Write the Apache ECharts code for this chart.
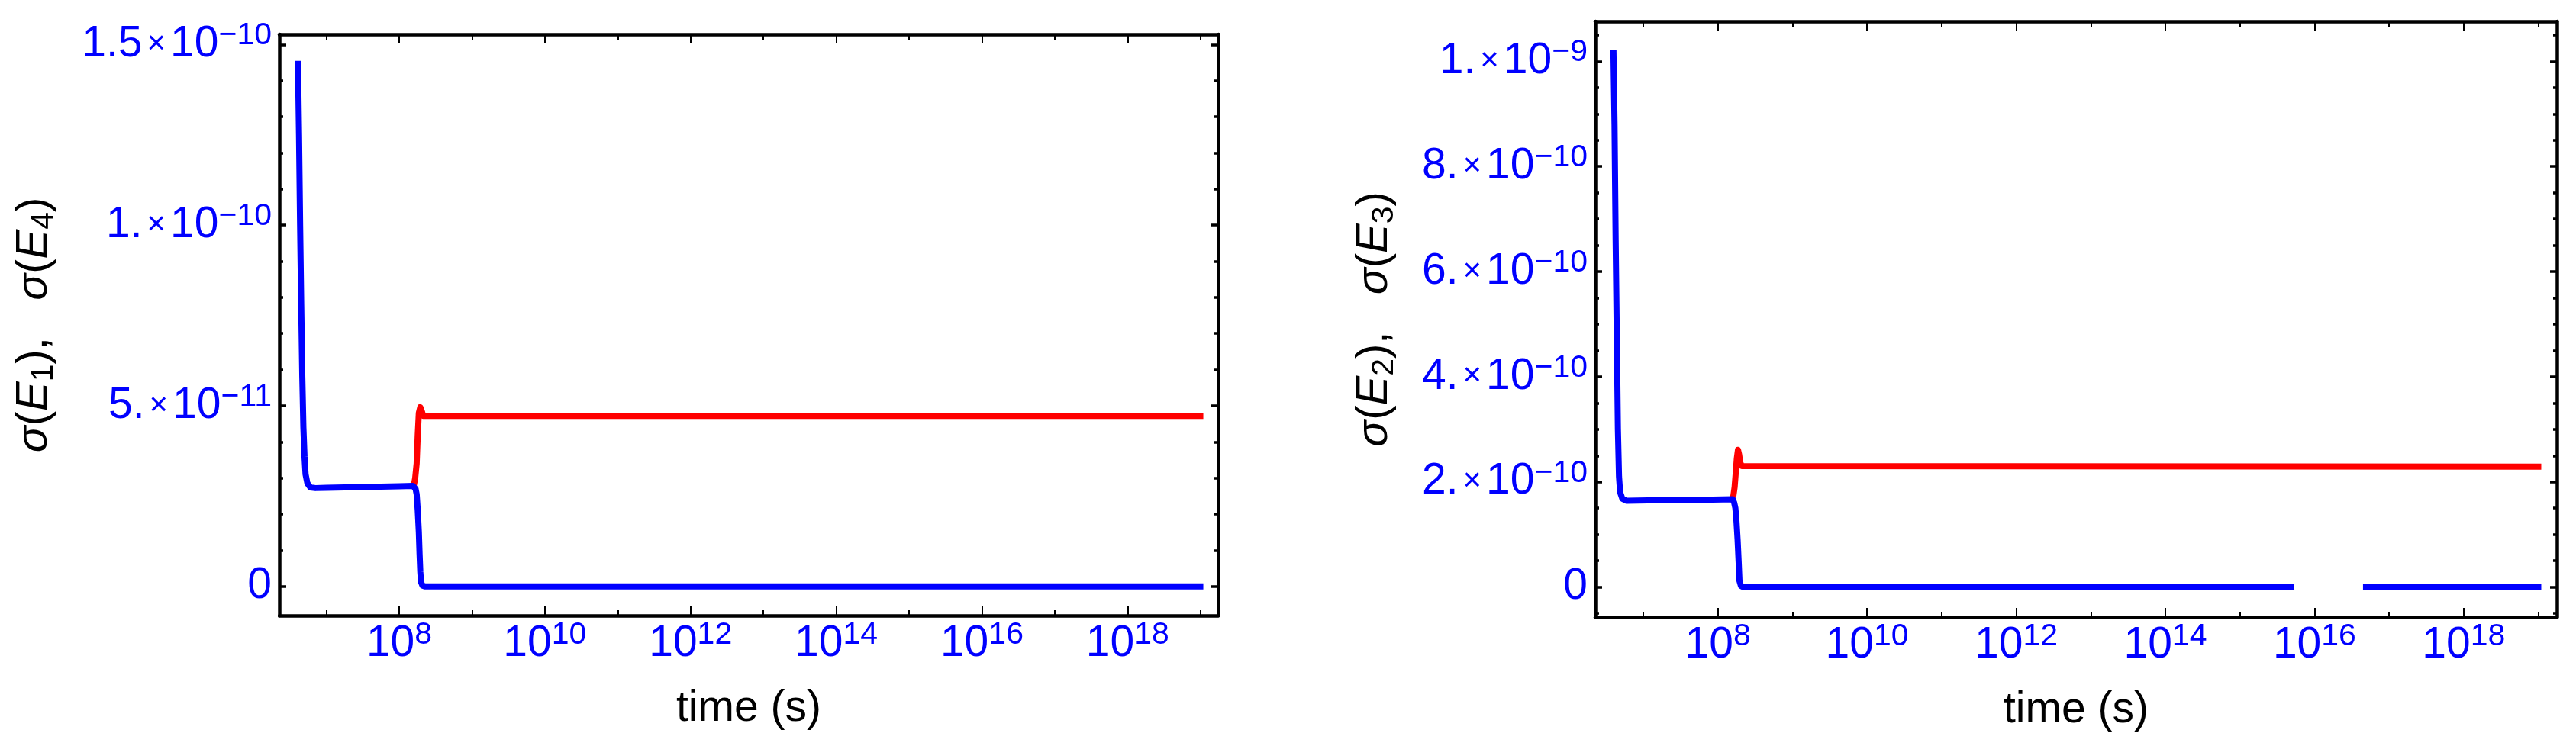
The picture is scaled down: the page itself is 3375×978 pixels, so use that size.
<!DOCTYPE html>
<html><head><meta charset="utf-8">
<script src="https://cdn.jsdelivr.net/npm/echarts@6/dist/echarts.min.js"></script>
<style>html,body{margin:0;padding:0;background:#fff}#c{width:3375px;height:978px}</style>
</head><body><div id="c"></div>
<script>
// ---- x axis: log10(time / s) ----
const xLabelExp = [8, 10, 12, 14, 16, 18];
const xMinorExp = [7, 9, 11, 13, 15, 17, 19];

// ---- left panel: sigma(E1) blue, sigma(E4) red ----
const leftBlueLogT = [6.61, 6.625, 6.64, 6.655, 6.67, 6.685, 6.70, 6.715, 6.74, 6.78, 6.85, 7.0, 7.5, 8.0, 8.19, 8.21, 8.225, 8.24, 8.255, 8.27, 8.28, 8.29, 8.30, 8.32, 8.35, 19.04];
const leftBlueVal  = [1.455e-10, 1.25e-10, 1.0e-10, 7.8e-11, 5.8e-11, 4.4e-11, 3.6e-11, 3.1e-11, 2.85e-11, 2.74e-11, 2.72e-11, 2.73e-11, 2.75e-11, 2.77e-11, 2.78e-11, 2.76e-11, 2.7e-11, 2.55e-11, 2.1e-11, 1.5e-11, 0.9e-11, 0.4e-11, 0.12e-11, 0.02e-11, 0, 0];
const leftRedLogT  = [8.20, 8.22, 8.24, 8.255, 8.27, 8.29, 8.31, 8.33, 19.04];
const leftRedVal   = [2.78e-11, 3.0e-11, 3.4e-11, 4.2e-11, 4.8e-11, 4.96e-11, 4.85e-11, 4.72e-11, 4.72e-11];
const leftYTicks    = [0, 5e-11, 1e-10, 1.5e-10];
const leftYMantissa = ['0', '5.', '1.', '1.5'];
const leftYExponent = ['', '−11', '−10', '−10'];
const leftYMinor = [1e-11, 2e-11, 3e-11, 4e-11, 6e-11, 7e-11, 8e-11, 9e-11, 1.1e-10, 1.2e-10, 1.3e-10, 1.4e-10];

// ---- right panel: sigma(E2) blue, sigma(E3) red ----
const rightBlueLogT = [6.60, 6.615, 6.63, 6.645, 6.66, 6.675, 6.69, 6.72, 6.78, 7.2, 7.8, 8.20, 8.22, 8.235, 8.25, 8.265, 8.28, 8.29, 8.31, 8.34, 15.73, 16.2, 16.65, 19.04];
const rightBlueVal  = [1.022e-9, 8.8e-10, 6.6e-10, 4.8e-10, 3.0e-10, 2.1e-10, 1.8e-10, 1.68e-10, 1.64e-10, 1.65e-10, 1.66e-10, 1.67e-10, 1.6e-10, 1.5e-10, 1.25e-10, 0.9e-10, 0.45e-10, 0.12e-10, 0.02e-10, 0, 0, '-', 0, 0];
const rightRedLogT  = [8.205, 8.225, 8.24, 8.255, 8.27, 8.285, 8.30, 8.32, 8.34, 19.04];
const rightRedVal   = [1.70e-10, 1.9e-10, 2.17e-10, 2.45e-10, 2.61e-10, 2.52e-10, 2.37e-10, 2.30e-10, 2.29e-10, 2.29e-10];
const rightYTicks    = [0, 2e-10, 4e-10, 6e-10, 8e-10, 1e-9];
const rightYMantissa = ['0', '2.', '4.', '6.', '8.', '1.'];
const rightYExponent = ['', '−10', '−10', '−10', '−10', '−9'];
const rightYMinor = [-0.5e-10, 0.5e-10, 1e-10, 1.5e-10, 2.5e-10, 3e-10, 3.5e-10, 4.5e-10, 5e-10, 5.5e-10, 6.5e-10, 7e-10, 7.5e-10, 8.5e-10, 9e-10, 9.5e-10, 10.5e-10];

const FONT = 'Liberation Sans';
const BLUE = '#0000ff', RED = '#ff0000';

const zip = (a, b) => a.map((v, i) => [v, b[i]]);

const labelRich = {
  m: { fontSize: 57, fontFamily: FONT, color: BLUE, lineHeight: 64 },
  x: { fontSize: 42, fontFamily: FONT, color: BLUE, lineHeight: 64, padding: [0, 6, 0, 6] },
  s: { fontSize: 41, fontFamily: FONT, color: BLUE, lineHeight: 34, verticalAlign: 'top' }
};
const nameRich = {
  i: { fontSize: 58, fontFamily: FONT, fontStyle: 'italic', color: '#000', lineHeight: 66 },
  n: { fontSize: 58, fontFamily: FONT, color: '#000', lineHeight: 66 },
  b: { fontSize: 41, fontFamily: FONT, color: '#000', lineHeight: 44, verticalAlign: 'bottom' }
};

function yFormatter(ticks, mant, expo) {
  return function (v) {
    let k = 0, best = Infinity;
    ticks.forEach((t, i) => { const d = Math.abs(t - v); if (d < best) { best = d; k = i; } });
    if (!expo[k]) return '{m|' + mant[k] + '}';
    return '{m|' + mant[k] + '}{x|×}{m|10}{s|' + expo[k] + '}';
  };
}
function xFormatter(v) { return '{m|10}{s|' + Math.round(v) + '}'; }

const LINE = { show: true, onZero: false, lineStyle: { color: '#000', width: 4.5 } };
const NOLINE = { show: false, onZero: false };

const panels = [
  { rect: { left: 366, right: 1779, top: 45, bottom: 171 }, xr: [6.355, 19.244], yr: [-0.81e-11, 15.285e-11],
    yTicks: leftYTicks, yMant: leftYMantissa, yExp: leftYExponent, yMinor: leftYMinor,
    yName: '{i|σ}{n|(}{i|E}{b|1}{n|),   }{i|σ}{n|(}{i|E}{b|4}{n|)}', yGap: 288,
    blue: zip(leftBlueLogT, leftBlueVal), red: zip(leftRedLogT, leftRedVal) },
  { rect: { left: 2090, right: 25, top: 28, bottom: 169 }, xr: [6.356, 19.25], yr: [-0.572e-10, 10.76e-10],
    yTicks: rightYTicks, yMant: rightYMantissa, yExp: rightYExponent, yMinor: rightYMinor,
    yName: '{i|σ}{n|(}{i|E}{b|2}{n|),   }{i|σ}{n|(}{i|E}{b|3}{n|)}', yGap: 256,
    blue: zip(rightBlueLogT, rightBlueVal), red: zip(rightRedLogT, rightRedVal) }
];

const grid = [], xAxis = [], yAxis = [], series = [];
panels.forEach((p) => {
  const gMain = grid.length; grid.push(Object.assign({}, p.rect));
  const gMinor = grid.length; grid.push(Object.assign({}, p.rect));
  const xMainIdx = xAxis.length;
  xAxis.push({ gridIndex: gMain, type: 'value', position: 'bottom', min: p.xr[0], max: p.xr[1],
    axisLine: LINE, splitLine: { show: false },
    axisTick: { show: true, inside: true, length: 12, lineStyle: { color: '#000', width: 2 }, customValues: xLabelExp },
    axisLabel: { show: true, margin: 5, customValues: xLabelExp, formatter: xFormatter, rich: labelRich },
    name: 'time (s)', nameLocation: 'middle', nameGap: 90,
    nameTextStyle: { fontSize: 57, fontFamily: FONT, color: '#000', lineHeight: 64 } });
  xAxis.push({ gridIndex: gMain, type: 'value', position: 'top', min: p.xr[0], max: p.xr[1],
    axisLine: LINE, splitLine: { show: false },
    axisTick: { show: true, inside: true, length: 12, lineStyle: { color: '#000', width: 2 }, customValues: xLabelExp },
    axisLabel: { show: false } });
  ['bottom', 'top'].forEach(pos => xAxis.push({ gridIndex: gMinor, type: 'value', position: pos, min: p.xr[0], max: p.xr[1],
    axisLine: NOLINE, splitLine: { show: false },
    axisTick: { show: true, inside: true, length: 7, lineStyle: { color: '#000', width: 2 }, customValues: xMinorExp },
    axisLabel: { show: false } }));

  const yMainIdx = yAxis.length;
  yAxis.push({ gridIndex: gMain, type: 'value', position: 'left', min: p.yr[0], max: p.yr[1],
    axisLine: LINE, splitLine: { show: false },
    axisTick: { show: true, inside: true, length: 9, lineStyle: { color: '#000', width: 3.5 }, customValues: p.yTicks },
    axisLabel: { show: true, margin: 10, customValues: p.yTicks, formatter: yFormatter(p.yTicks, p.yMant, p.yExp), rich: labelRich },
    name: p.yName, nameLocation: 'middle', nameGap: p.yGap,
    nameTextStyle: { fontSize: 58, fontFamily: FONT, color: '#000', lineHeight: 66, rich: nameRich } });
  yAxis.push({ gridIndex: gMain, type: 'value', position: 'right', min: p.yr[0], max: p.yr[1],
    axisLine: LINE, splitLine: { show: false },
    axisTick: { show: true, inside: true, length: 9, lineStyle: { color: '#000', width: 3.5 }, customValues: p.yTicks },
    axisLabel: { show: false } });
  ['left', 'right'].forEach(pos => yAxis.push({ gridIndex: gMinor, type: 'value', position: pos, min: p.yr[0], max: p.yr[1],
    axisLine: NOLINE, splitLine: { show: false },
    axisTick: { show: true, inside: true, length: 5, lineStyle: { color: '#000', width: 3.5 }, customValues: p.yMinor },
    axisLabel: { show: false } }));

  series.push({ type: 'line', xAxisIndex: xMainIdx, yAxisIndex: yMainIdx, data: p.red, showSymbol: false, symbol: 'none',
    lineStyle: { color: RED, width: 8, join: 'round' }, z: 3 });
  series.push({ type: 'line', xAxisIndex: xMainIdx, yAxisIndex: yMainIdx, data: p.blue, showSymbol: false, symbol: 'none',
    connectNulls: false, lineStyle: { color: BLUE, width: 8, join: 'round' }, z: 4 });
});

const chart = echarts.init(document.getElementById('c'), null, { renderer: 'canvas' });
chart.setOption({ animation: false, backgroundColor: '#fff', grid, xAxis, yAxis, series });
</script></body></html>
